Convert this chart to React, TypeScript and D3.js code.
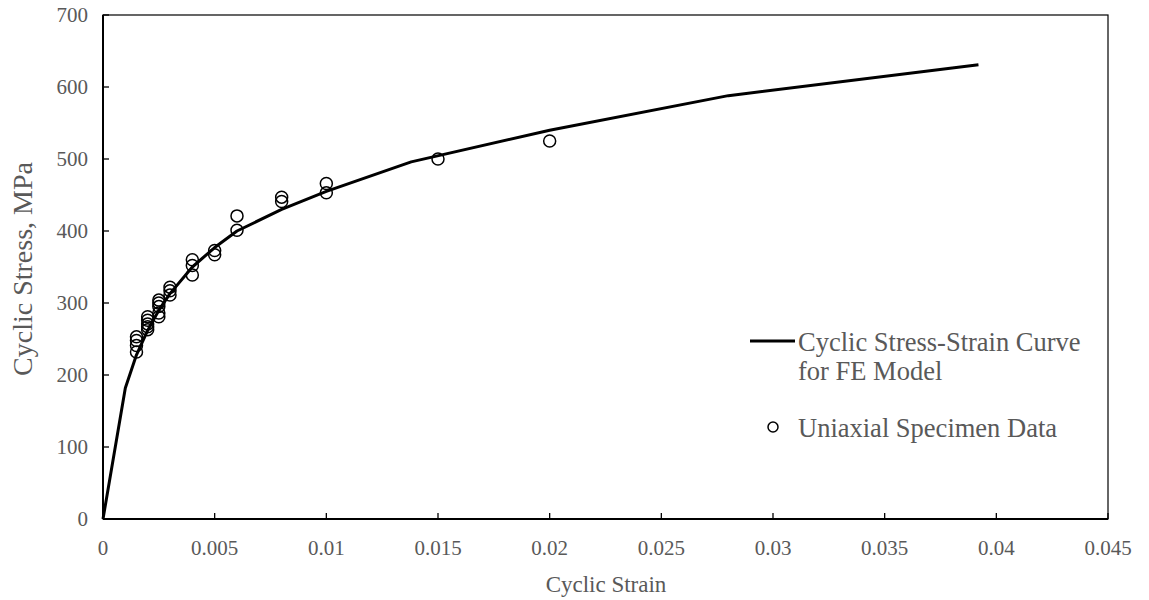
import * as d3 from 'd3';

// curve used by the FE model (strain, MPa)
const curveStrain = [0, 0.001, 0.0015, 0.002, 0.0025, 0.003, 0.004, 0.005, 0.006, 0.008, 0.01, 0.0138, 0.02, 0.028, 0.0392];
const curveStress = [0, 182, 228, 262, 290, 313, 350, 377, 400, 430, 455, 496, 540, 588, 631];

// uniaxial specimen test points
const specStrain = [
  0.0015, 0.0015, 0.0015, 0.0015,
  0.002, 0.002, 0.002, 0.002, 0.002,
  0.0025, 0.0025, 0.0025, 0.0025, 0.0025,
  0.003, 0.003, 0.003,
  0.004, 0.004, 0.004,
  0.005, 0.005,
  0.006, 0.006,
  0.008, 0.008,
  0.01, 0.01,
  0.015,
  0.02,
];
const specStress = [
  253, 248, 241, 232,
  281, 276, 271, 267, 263,
  304, 300, 295, 286, 281,
  322, 317, 311,
  360, 352, 339,
  373, 367,
  421, 401,
  447, 441,
  466, 453,
  500,
  525,
];

const xTicks = [0, 0.005, 0.01, 0.015, 0.02, 0.025, 0.03, 0.035, 0.04, 0.045];
const yTicks = [0, 100, 200, 300, 400, 500, 600, 700];

const W = 1149;
const H = 600;
const m = { left: 103, right: 41, top: 15, bottom: 81 };
const grey = '#595959';
const font = '"Liberation Serif", "Times New Roman", serif';

export default function App() {
  const x = d3.scaleLinear().domain([0, 0.045]).range([m.left, W - m.right]);
  const y = d3.scaleLinear().domain([0, 700]).range([H - m.bottom, m.top]);

  const line = d3.line<number>()
    .x((_, i) => x(curveStrain[i]))
    .y(d => y(d));

  const x0 = x(0), x1 = x(0.045), y0 = y(0), y1 = y(700);

  return (
    <svg width={W} height={H} style={{ position: 'absolute', left: 0, top: 0, background: '#fff' }} fontFamily={font}>
      <rect x={x0} y={y1} width={x1 - x0} height={y0 - y1} fill="none" stroke="#000" strokeWidth={1.2} />
      <line x1={x0} x2={x0} y1={y1} y2={y0} stroke="#000" strokeWidth={2} />
      <line x1={x0} x2={x1} y1={y0} y2={y0} stroke="#000" strokeWidth={2} />

      {xTicks.map(t => (
        <g key={'x' + t}>
          <line x1={x(t)} x2={x(t)} y1={y0} y2={y0 - 6} stroke="#000" strokeWidth={1.3} />
          <text x={x(t)} y={y0 + 36} textAnchor="middle" fontSize={21} fill={grey}>{String(t)}</text>
        </g>
      ))}
      {yTicks.map(t => (
        <g key={'y' + t}>
          <line x1={x0} x2={x0 + 6} y1={y(t)} y2={y(t)} stroke="#000" strokeWidth={1.3} />
          <text x={x0 - 15} y={y(t) + 7} textAnchor="end" fontSize={21} fill={grey}>{t}</text>
        </g>
      ))}

      <text x={606} y={592} textAnchor="middle" fontSize={23} fill={grey}>Cyclic Strain</text>
      <text transform={`translate(32, 269) rotate(-90)`} textAnchor="middle" fontSize={28} fill={grey}>Cyclic Stress, MPa</text>

      <path d={line(curveStress) ?? ''} fill="none" stroke="#000" strokeWidth={3} strokeLinejoin="round" />

      {specStress.map((s, i) => (
        <circle key={i} cx={x(specStrain[i])} cy={y(s)} r={6} fill="none" stroke="#000" strokeWidth={1.5} />
      ))}

      <line x1={750} x2={795} y1={341} y2={341} stroke="#000" strokeWidth={3} />
      <text x={798} y={351} fontSize={26.5} fill={grey}>
        <tspan x={798} y={351}>Cyclic Stress-Strain Curve</tspan>
        <tspan x={798} y={380}>for FE Model</tspan>
      </text>
      <circle cx={773} cy={427} r={5} fill="none" stroke="#000" strokeWidth={1.5} />
      <text x={798} y={437} fontSize={26.5} fill={grey}>Uniaxial Specimen Data</text>
    </svg>
  );
}
